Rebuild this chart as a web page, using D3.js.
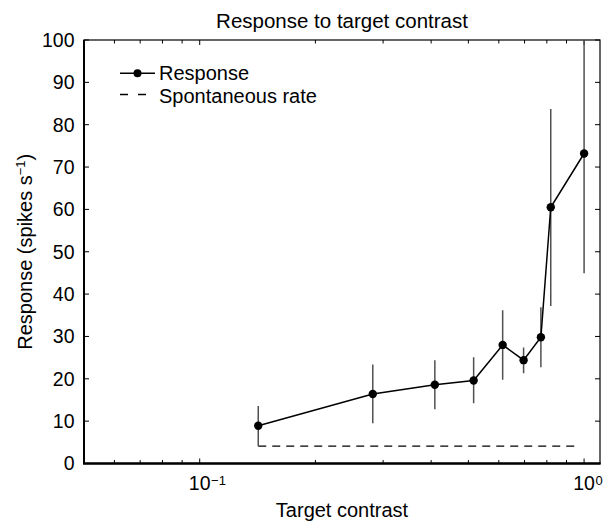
<!DOCTYPE html>
<html><head><meta charset="utf-8">
<script src="https://cdn.jsdelivr.net/npm/d3@7"></script>
<style>body{margin:0;background:#fff}svg{display:block}text{font-family:"Liberation Sans",Arial,sans-serif;fill:#000}</style>
</head><body><svg id="c" width="613" height="523"></svg>
<script>
const contrast = [0.142, 0.282, 0.409, 0.516, 0.614, 0.696, 0.772, 0.819, 1.0];
const response = [8.9, 16.4, 18.6, 19.6, 28.0, 24.4, 29.8, 60.5, 73.2];
const errLow = [4.1, 9.5, 12.8, 14.2, 19.8, 21.3, 22.7, 37.2, 44.9];
const errHigh = [13.6, 23.4, 24.4, 25.1, 36.2, 27.4, 36.9, 83.7, 101.5];
const spontaneousRate = 4.1;
const spontaneousRange = [0.142, 0.95];
const yTicks = [0,10,20,30,40,50,60,70,80,90,100];
const xMajor = [0.1, 1];
const xMajorExp = ["\u22121", "0"];
const xMinor = [0.06,0.07,0.08,0.09,0.2,0.3,0.4,0.5,0.6,0.7,0.8,0.9];

const svg = d3.select("#c");
const L=84, R=600, T=40, B=463.5;
const x = d3.scaleLog().domain([0.05,1.1]).range([L,R]);
const y = d3.scaleLinear().domain([0,100]).range([B,T]);
const FS = 19.5;

svg.append("defs").append("clipPath").attr("id","clip").append("rect")
  .attr("x",L).attr("y",T).attr("width",R-L).attr("height",B-T);

const g = svg.append("g");
yTicks.forEach(v=>{
  g.append("line").attr("x1",L).attr("x2",L+5).attr("y1",y(v)).attr("y2",y(v)).attr("stroke","#000");
  g.append("line").attr("x1",R).attr("x2",R-5).attr("y1",y(v)).attr("y2",y(v)).attr("stroke","#000");
  g.append("text").attr("x",L-9.5).attr("y",y(v)).attr("dy","0.35em").attr("text-anchor","end")
    .style("font-size",FS+"px").text(v);
});
xMinor.concat(xMajor).forEach(v=>{
  const len = xMajor.includes(v)?5:3.5;
  g.append("line").attr("x1",x(v)).attr("x2",x(v)).attr("y1",B).attr("y2",B-len).attr("stroke","#000");
  g.append("line").attr("x1",x(v)).attr("x2",x(v)).attr("y1",T).attr("y2",T+len).attr("stroke","#000");
});
xMajor.forEach((v,i)=>{
  const t = g.append("text").attr("x",x(v)).attr("y",490).attr("text-anchor","middle").style("font-size",FS+"px").text("10");
  const w = t.node().getComputedTextLength();
  g.append("text").attr("x",x(v)+w/2+0.5).attr("y",484.5).style("font-size","13px").text(xMajorExp[i]);
});
// frame
svg.append("rect").attr("x",L).attr("y",T).attr("width",R-L).attr("height",B-T)
  .attr("fill","none").attr("stroke","#000").attr("stroke-width",1.2);
svg.append("line").attr("x1",L-1).attr("x2",R+0.6).attr("y1",B).attr("y2",B).attr("stroke","#000").attr("stroke-width",2.5);
svg.append("line").attr("x1",L).attr("x2",L).attr("y1",T).attr("y2",B).attr("stroke","#000").attr("stroke-width",2);

const plot = svg.append("g").attr("clip-path","url(#clip)");
plot.append("line").attr("x1",x(spontaneousRange[0])).attr("x2",x(spontaneousRange[1]))
  .attr("y1",y(spontaneousRate)).attr("y2",y(spontaneousRate))
  .attr("stroke","#000").attr("stroke-width",1.3).attr("stroke-dasharray","8,6");
contrast.forEach((c,i)=>{
  plot.append("line").attr("x1",x(c)).attr("x2",x(c)).attr("y1",y(errLow[i])).attr("y2",y(errHigh[i]))
    .attr("stroke","#505050").attr("stroke-width",1.5);
});
const line = d3.line().x((d,i)=>x(contrast[i])).y(d=>y(d));
plot.append("path").datum(response).attr("d",line).attr("fill","none").attr("stroke","#000").attr("stroke-width",1.5);
plot.selectAll("circle.p").data(response).enter().append("circle")
  .attr("cx",(d,i)=>x(contrast[i])).attr("cy",d=>y(d)).attr("r",4.2).attr("fill","#000");

// legend
const lg = svg.append("g");
lg.append("line").attr("x1",120).attr("x2",155).attr("y1",73.3).attr("y2",73.3).attr("stroke","#000").attr("stroke-width",1.5);
lg.append("circle").attr("cx",137.5).attr("cy",73.3).attr("r",4).attr("fill","#000");
lg.append("text").attr("x",159).attr("y",79.5).style("font-size","20px").text("Response");
lg.append("line").attr("x1",120).attr("x2",155).attr("y1",94.5).attr("y2",94.5).attr("stroke","#000").attr("stroke-width",1.3).attr("stroke-dasharray","8,10");
lg.append("text").attr("x",159).attr("y",102.7).style("font-size","20px").text("Spontaneous rate");

// titles
svg.append("text").attr("x",(L+R)/2).attr("y",28.3).attr("text-anchor","middle").style("font-size","20.5px").text("Response to target contrast");
svg.append("text").attr("x",(L+R)/2).attr("y",517).attr("text-anchor","middle").style("font-size","20px").text("Target contrast");
const yl = svg.append("text").attr("transform",`translate(32,${(T+B)/2}) rotate(-90)`).attr("text-anchor","middle").style("font-size","20px");
yl.append("tspan").text("Response (spikes s");
yl.append("tspan").attr("dy","-7").style("font-size","13px").text("\u22121");
yl.append("tspan").attr("dy","7").text(")");
</script></body></html>
